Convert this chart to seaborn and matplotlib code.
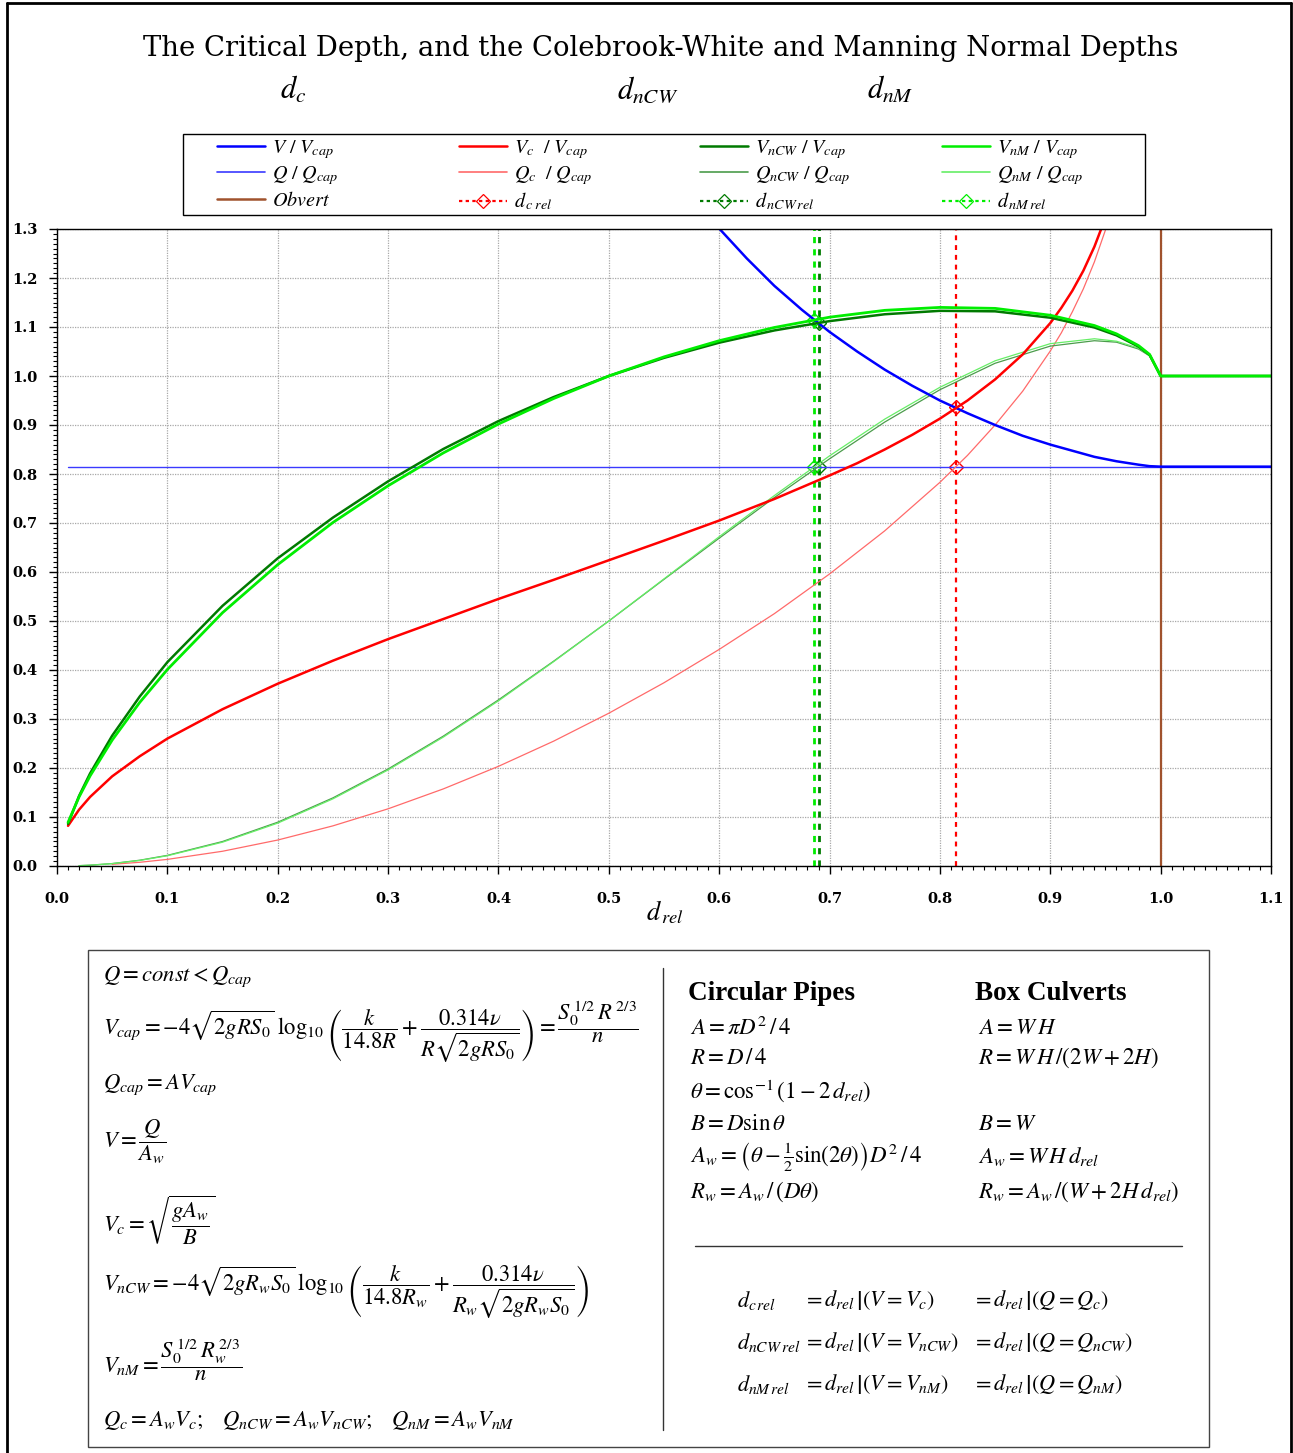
import numpy as np
import pandas as pd
import matplotlib
matplotlib.use("Agg")
import matplotlib.pyplot as plt
from matplotlib.lines import Line2D
from matplotlib.patches import Rectangle
from matplotlib.ticker import MultipleLocator, FormatStrFormatter
import seaborn as sns

# ---- values --------------------------------------------------------------
# relative depth d_rel for the velocity curves
D_V = [0.01, 0.02, 0.03, 0.05, 0.075, 0.1, 0.15, 0.2, 0.25, 0.3, 0.35, 0.4,
       0.45, 0.5, 0.55, 0.6, 0.65, 0.7, 0.75, 0.8, 0.85, 0.9, 0.94, 0.96,
       0.98, 0.99, 1.0, 1.1]
V_NCW = [0.086, 0.143, 0.189, 0.266, 0.346, 0.416, 0.531, 0.628, 0.711, 0.785,
         0.851, 0.908, 0.957, 1.0, 1.037, 1.068, 1.093, 1.112, 1.126, 1.133,
         1.132, 1.119, 1.099, 1.083, 1.060, 1.043, 1.0, 1.0]
V_NM = [0.089, 0.141, 0.184, 0.257, 0.334, 0.401, 0.517, 0.615, 0.701, 0.776,
        0.843, 0.902, 0.954, 1.0, 1.039, 1.072, 1.099, 1.120, 1.134, 1.140,
        1.138, 1.124, 1.103, 1.086, 1.062, 1.044, 1.0, 1.0]

D_QN = [0.02, 0.03, 0.05, 0.075, 0.1, 0.15, 0.2, 0.25, 0.3, 0.35, 0.4, 0.45,
        0.5, 0.55, 0.6, 0.65, 0.7, 0.75, 0.8, 0.85, 0.9, 0.94, 0.96, 0.98,
        0.99, 1.0, 1.1]
Q_NCW = [0.0007, 0.0017, 0.0050, 0.0118, 0.0217, 0.0500, 0.0894, 0.139, 0.198,
         0.265, 0.339, 0.418, 0.5, 0.585, 0.669, 0.752, 0.831, 0.906, 0.972,
         1.026, 1.061, 1.072, 1.069, 1.055, 1.041, 1.0, 1.0]
Q_NM = [0.0007, 0.0016, 0.0048, 0.0114, 0.0209, 0.0486, 0.0875, 0.137, 0.196,
        0.263, 0.337, 0.417, 0.5, 0.586, 0.672, 0.756, 0.837, 0.912, 0.977,
        1.031, 1.066, 1.076, 1.071, 1.057, 1.042, 1.0, 1.0]

D_VC = [0.01, 0.02, 0.03, 0.05, 0.075, 0.1, 0.15, 0.2, 0.25, 0.3, 0.35, 0.4,
        0.45, 0.5, 0.55, 0.6, 0.65, 0.7, 0.725, 0.75, 0.775, 0.8, 0.825, 0.85,
        0.875, 0.9, 0.91, 0.92, 0.93, 0.94, 0.95]
V_C = [0.082, 0.115, 0.141, 0.183, 0.224, 0.260, 0.320, 0.372, 0.419, 0.463,
       0.504, 0.545, 0.584, 0.624, 0.664, 0.705, 0.749, 0.797, 0.822, 0.850,
       0.880, 0.913, 0.950, 0.993, 1.044, 1.108, 1.139, 1.174, 1.215, 1.264,
       1.323]

D_QC = [0.05, 0.075, 0.1, 0.15, 0.2, 0.25, 0.3, 0.35, 0.4, 0.45, 0.5, 0.55,
        0.6, 0.65, 0.7, 0.75, 0.8, 0.825, 0.85, 0.875, 0.9, 0.91, 0.92, 0.93,
        0.94, 0.95, 0.96]
Q_C = [0.0034, 0.0076, 0.0135, 0.0301, 0.0530, 0.0819, 0.1167, 0.1573, 0.2034,
       0.2548, 0.3118, 0.374, 0.442, 0.515, 0.596, 0.684, 0.783, 0.838, 0.900,
       0.969, 1.051, 1.088, 1.131, 1.178, 1.233, 1.298, 1.380]

D_VV = [0.55, 0.59, 0.6, 0.625, 0.65, 0.675, 0.7, 0.725, 0.75, 0.775, 0.8,
        0.825, 0.85, 0.875, 0.9, 0.94, 0.96, 0.98, 0.99, 1.0, 1.1]
V_RATIO = [1.446, 1.327, 1.301, 1.240, 1.184, 1.135, 1.090, 1.050, 1.013, 0.980,
           0.950, 0.924, 0.900, 0.878, 0.860, 0.835, 0.826, 0.819, 0.816, 0.815,
           0.815]

D_Q = [0.01, 1.1]
Q_RATIO = [0.815, 0.815]

D_OBVERT = [1.0, 1.0]
Y_OBVERT = [0.0, 1.3]

# depth lines: x position, then the y values along the line (ends + intersections)
DC_REL = 0.815
DC_Y = [0.0, 0.815, 0.937, 1.3]
DNCW_REL = 0.690
DNCW_Y = [0.0, 0.815, 1.108, 1.3]
DNM_REL = 0.686
DNM_Y = [0.0, 0.815, 1.115, 1.3]

# ---- styling ---------------------------------------------------------------
C_BLUE = "#0000ff"
C_QBLUE = "#3a3aff"
C_RED = "#ff0000"
C_QRED = "#ff6a6a"
C_DKGREEN = "#007a00"
C_GREEN = "#00ee00"
C_QDKGREEN = "#4c9c4c"
C_QGREEN = "#66ee66"
C_BROWN = "#a0522d"

W, H = 1293, 1453
fx = lambda px: px / W
fy = lambda py: 1 - py / H

sns.set_style("white")
plt.rcParams["font.family"] = ["DejaVu Serif"]
plt.rcParams["mathtext.fontset"] = "stix"
for key in ("text.color", "axes.labelcolor", "xtick.color", "ytick.color"):
    plt.rcParams[key] = "black"

fig = plt.figure(figsize=(W / 100, H / 100), dpi=100)
ax = fig.add_axes([fx(57), fy(866), fx(1271) - fx(57), fy(229) - fy(866)])


def curve(x, y, **kw):
    df = pd.DataFrame({"d_rel": x, "ratio": y})
    sns.lineplot(data=df, x="d_rel", y="ratio", ax=ax, estimator=None,
                 sort=False, legend=False, **kw)


def depth_line(xpos, ys, color, lw, dash):
    curve([xpos] * len(ys), ys, color=color, lw=lw, ls=(0, dash),
          marker="D", markevery=[1, 2], ms=7, mfc="none", mec=color, mew=1.0)


# vertical depth lines first so the curves sit on top
depth_line(DC_REL, DC_Y, C_RED, 1.6, (2.2, 2.2))
depth_line(DNCW_REL, DNCW_Y, C_DKGREEN, 2.0, (2.2, 2.2))
depth_line(DNM_REL, DNM_Y, C_GREEN, 2.0, (2.2, 2.2))

curve(D_OBVERT, Y_OBVERT, color=C_BROWN, lw=1.6)
curve(D_Q, Q_RATIO, color=C_QBLUE, lw=1.0)
curve(D_QC, Q_C, color=C_QRED, lw=0.9)
curve(D_QN, Q_NCW, color=C_QDKGREEN, lw=0.9)
curve(D_QN, Q_NM, color=C_QGREEN, lw=0.9)
curve(D_VV, V_RATIO, color=C_BLUE, lw=1.8)
curve(D_VC, V_C, color=C_RED, lw=1.8)
curve(D_V, V_NCW, color=C_DKGREEN, lw=1.8)
curve(D_V, V_NM, color=C_GREEN, lw=2.0)

ax.set_xlim(0, 1.1)
ax.set_ylim(0, 1.3)
ax.xaxis.set_major_locator(MultipleLocator(0.1))
ax.xaxis.set_minor_locator(MultipleLocator(0.01))
ax.yaxis.set_major_locator(MultipleLocator(0.1))
ax.yaxis.set_minor_locator(MultipleLocator(0.01))
ax.xaxis.set_major_formatter(FormatStrFormatter("%.1f"))
ax.yaxis.set_major_formatter(FormatStrFormatter("%.1f"))
ax.tick_params(which="major", direction="out", length=6, width=1, color="black",
               labelsize=10.5)
ax.tick_params(which="minor", direction="out", length=3, width=0.8, color="black")
ax.tick_params(axis="x", which="major", pad=13)
ax.tick_params(axis="y", which="major", pad=8)
ax.tick_params(axis="both", which="both", bottom=True, left=True)
for lbl in ax.get_xticklabels() + ax.get_yticklabels():
    lbl.set_fontweight("bold")
ax.grid(True, which="major", color="#a8a8a8", ls=(0, (1, 1)), lw=0.9)
for sp in ax.spines.values():
    sp.set_color("black")
    sp.set_linewidth(1.0)
ax.set_xlabel("")
ax.set_ylabel("")
fig.text(fx(665), fy(912), r"$d_{\,rel}$", fontsize=19, ha="center", va="center")

# ---- title -----------------------------------------------------------------
fig.text(fx(661), fy(48),
         "The Critical Depth, and the Colebrook-White and Manning Normal Depths",
         fontsize=19.8, ha="center", va="center")
for px, s in [(293, r"$d_c$"), (648, r"$d_{nCW}$"), (890, r"$d_{nM}$")]:
    fig.text(fx(px), fy(90), s, fontsize=22, ha="center", va="center")

# ---- legend: frame plus one legend per column ------------------------------
fig.add_artist(Rectangle((fx(183), fy(215)), fx(1145) - fx(183), fy(134) - fy(215),
                         transform=fig.transFigure, fill=False, ec="black", lw=1.0))


def h_line(color, lw):
    return Line2D([], [], color=color, lw=lw)


def h_depth(color):
    return Line2D([], [], color=color, lw=1.6, ls=(0, (1.5, 1.5)), marker="D",
                  ms=7, mfc="none", mec=color, mew=0.9)


legend_cols = [
    (217, [h_line(C_BLUE, 1.8), h_line(C_QBLUE, 1.2), h_line(C_BROWN, 1.8)],
     [r"$V\ /\ V_{cap}$", r"$Q\ /\ Q_{cap}$", r"$Obvert$"]),
    (459, [h_line(C_RED, 1.8), h_line(C_QRED, 1.2), h_depth(C_RED)],
     [r"$V_{c}\ \ /\ V_{cap}$", r"$Q_{c}\ \ /\ Q_{cap}$", r"$d_{\,c\;rel}$"]),
    (700, [h_line(C_DKGREEN, 1.8), h_line(C_QDKGREEN, 1.2), h_depth(C_DKGREEN)],
     [r"$V_{nCW}\ /\ V_{cap}$", r"$Q_{nCW}\ /\ Q_{cap}$", r"$d_{\,nCW\,rel}$"]),
    (942, [h_line(C_GREEN, 1.8), h_line(C_QGREEN, 1.2), h_depth(C_GREEN)],
     [r"$V_{nM}\ /\ V_{cap}$", r"$Q_{nM}\ /\ Q_{cap}$", r"$d_{\,nM\,rel}$"]),
]
for px, handles, labels in legend_cols:
    fig.legend(handles=handles, labels=labels, loc="upper left",
               bbox_to_anchor=(fx(px), fy(138)), bbox_transform=fig.transFigure,
               frameon=False, fontsize=14.5, handlelength=2.4, handletextpad=0.35,
               labelspacing=0.17, borderpad=0, borderaxespad=0, numpoints=1)

# ---- outer frame -----------------------------------------------------------
fig.add_artist(Line2D([fx(7), fx(7)], [fy(1453), fy(3)], transform=fig.transFigure,
                      color="black", lw=2))
fig.add_artist(Line2D([fx(7), fx(1291)], [fy(3), fy(3)], transform=fig.transFigure,
                      color="black", lw=2))
fig.add_artist(Line2D([fx(1291), fx(1291)], [fy(3), fy(1453)], transform=fig.transFigure,
                      color="black", lw=2))

# ---- formula panel ---------------------------------------------------------
fig.add_artist(Rectangle((fx(88), fy(1447)), fx(1209) - fx(88), fy(950) - fy(1447),
                         transform=fig.transFigure, fill=False, ec="#444444", lw=1.0))
fig.add_artist(Line2D([fx(663), fx(663)], [fy(1430), fy(968)], transform=fig.transFigure,
                      color="#333333", lw=1.0))
fig.add_artist(Line2D([fx(695), fx(1182)], [fy(1246), fy(1246)], transform=fig.transFigure,
                      color="#333333", lw=1.0))

left_eqs = [
    (977, r"$Q = const < Q_{cap}$"),
    (1032, r"$V_{cap} = -4\sqrt{2gRS_0}\;\log_{10}\left(\dfrac{k}{14.8R}+\dfrac{0.314\nu}{R\sqrt{2gRS_0}}\right)"
           r" = \dfrac{S_0^{\,1/2}\,R^{\,2/3}}{n}$"),
    (1085, r"$Q_{cap} = AV_{cap}$"),
    (1142, r"$V = \dfrac{Q}{A_w}$"),
    (1220, r"$V_c = \sqrt{\dfrac{gA_w}{B}}$"),
    (1292, r"$V_{nCW} = -4\sqrt{2gR_wS_0}\;\log_{10}\left(\dfrac{k}{14.8R_w}+\dfrac{0.314\nu}{R_w\sqrt{2gR_wS_0}}\right)$"),
    (1360, r"$V_{nM} = \dfrac{S_0^{\,1/2}\,R_w^{\,2/3}}{n}$"),
    (1420, r"$Q_c = A_wV_c;\quad Q_{nCW} = A_wV_{nCW};\quad Q_{nM} = A_wV_{nM}$"),
]
for py, s in left_eqs:
    fig.text(fx(103), fy(py), s, fontsize=16.3, ha="left", va="center")

fig.text(fx(688), fy(993), "Circular Pipes", fontsize=19.5, fontweight="bold",
         family="Liberation Serif", ha="left", va="center")
fig.text(fx(975), fy(993), "Box Culverts", fontsize=19.5, fontweight="bold",
         family="Liberation Serif", ha="left", va="center")

pipe_eqs = [
    (1028, r"$A = \pi D^2\,/\,4$"),
    (1058, r"$R = D\,/\,4$"),
    (1091, r"$\theta = \cos^{-1}\left(1 - 2\,d_{rel}\right)$"),
    (1124, r"$B = D\sin\theta$"),
    (1157, r"$A_w = \left(\theta - \frac{1}{2}\sin(2\theta)\right)D^2\,/\,4$"),
    (1192, r"$R_w = A_w\,/\,\left(D\theta\right)$"),
]
box_eqs = [
    (1028, r"$A = W\,H$"),
    (1058, r"$R = W\,H\,/\left(2W + 2H\right)$"),
    (1124, r"$B = W$"),
    (1157, r"$A_w = W\,H\,d_{rel}$"),
    (1192, r"$R_w = A_w\,/\left(W + 2H\,d_{rel}\right)$"),
]
for py, s in pipe_eqs:
    fig.text(fx(690), fy(py), s, fontsize=16.5, ha="left", va="center")
for py, s in box_eqs:
    fig.text(fx(978), fy(py), s, fontsize=16.5, ha="left", va="center")

depth_defs = [
    (1300, r"$d_{c\,rel}$", r"$= d_{rel}\,\left|\left(V = V_c\right)\right.$",
     r"$= d_{rel}\,\left|\left(Q = Q_c\right)\right.$"),
    (1342, r"$d_{nCW\,rel}$", r"$= d_{rel}\,\left|\left(V = V_{nCW}\right)\right.$",
     r"$= d_{rel}\,\left|\left(Q = Q_{nCW}\right)\right.$"),
    (1384, r"$d_{nM\,rel}$", r"$= d_{rel}\,\left|\left(V = V_{nM}\right)\right.$",
     r"$= d_{rel}\,\left|\left(Q = Q_{nM}\right)\right.$"),
]
for py, name, eq1, eq2 in depth_defs:
    fig.text(fx(737), fy(py), name, fontsize=16, ha="left", va="center")
    fig.text(fx(803), fy(py), eq1, fontsize=16, ha="left", va="center")
    fig.text(fx(972), fy(py), eq2, fontsize=16, ha="left", va="center")

fig.savefig("out.png", dpi=100)
